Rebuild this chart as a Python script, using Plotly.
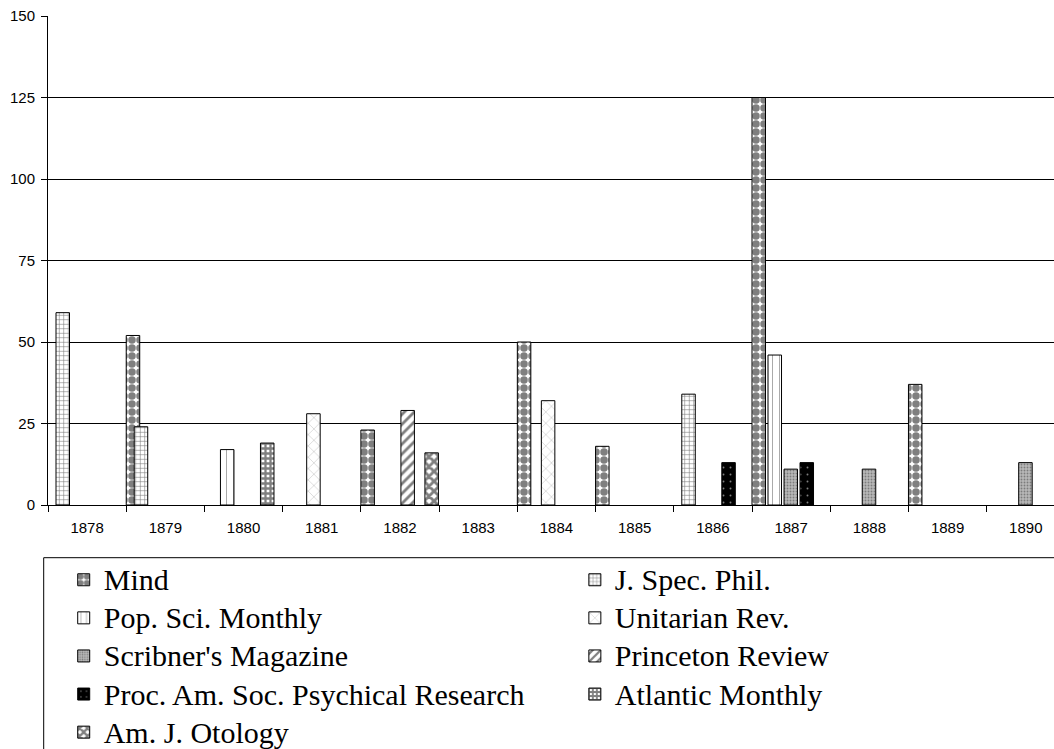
import plotly.graph_objects as go

years = ["1878", "1879", "1880", "1881", "1882", "1883", "1884",
         "1885", "1886", "1887", "1888", "1889", "1890"]

mind         = [None, 52, None, None, 23, None, 50, 18, None, 125, None, 37, None]
j_spec_phil  = [59, 24, None, None, None, None, None, None, 34, None, None, None, None]
pop_sci      = [None, None, 17, None, None, None, None, None, None, 46, None, None, None]
unitarian    = [None, None, None, 28, None, None, 32, None, None, None, None, None, None]
scribners    = [None, None, None, None, None, None, None, None, None, 11, 11, None, 13]
princeton    = [None, None, None, None, 29, None, None, None, None, None, None, None, None]
proc_am_soc  = [None, None, None, None, None, None, None, None, 13, 13, None, None, None]
atlantic     = [None, None, 19, None, None, None, None, None, None, None, None, None, None]
am_j_otology = [None, None, None, None, 16, None, None, None, None, None, None, None, None]

series_names = ["Mind", "J. Spec. Phil.", "Pop. Sci. Monthly", "Unitarian Rev.",
                "Scribner's Magazine", "Princeton Review",
                "Proc. Am. Soc. Psychical Research", "Atlantic Monthly", "Am. J. Otology"]
series_values = [mind, j_spec_phil, pop_sci, unitarian, scribners, princeton,
                 proc_am_soc, atlantic, am_j_otology]

patterns = [
    dict(shape=".", fgcolor="black", bgcolor="white", size=8, solidity=0.7),
    dict(shape="+", fgcolor="black", bgcolor="white", size=4.5, solidity=0.25),
    dict(shape="|", fgcolor="#333333", bgcolor="white", size=7, solidity=0.12),
    dict(shape="x", fgcolor="#777777", bgcolor="white", size=8, solidity=0.12),
    dict(shape=".", fgcolor="#404040", bgcolor="#b8b8b8", size=3, solidity=0.3),
    dict(shape="/", fgcolor="black", bgcolor="white", size=7, solidity=0.4),
    dict(shape=".", fgcolor="white", bgcolor="black", size=7, solidity=0.06),
    dict(shape="+", fgcolor="black", bgcolor="white", size=5, solidity=0.7),
    dict(shape="x", fgcolor="black", bgcolor="white", size=7, solidity=0.65),
]

cat_px = 78.2
step = 8.0 / cat_px
bw = 13.5 / cat_px

W, H = 1054, 749
plot_left = 48.3
plot_top = 16.3
plot_bottom = 505.3
plot_w = W - plot_left
plot_h = plot_bottom - plot_top
xmax = -0.5 + plot_w / cat_px

def px_to_paper_x(px):
    return (px - plot_left) / plot_w

def px_to_paper_y(py):
    return (plot_bottom - py) / plot_h

fig = go.Figure()
for i, (name, vals) in enumerate(zip(series_names, series_values)):
    fig.add_trace(go.Bar(
        x=years, y=vals, name='<span style="font-size:30px">' + name + '</span>',
        offset=-0.5 + i * step, width=bw,
        legend="legend" if i % 2 == 0 else "legend2",
        marker=dict(color="white", line=dict(color="black", width=1),
                    pattern=patterns[i]),
    ))

legend_common = dict(
    orientation="v", yanchor="top", xanchor="left",
    font=dict(family="Liberation Serif", size=27, color="black"),
    bgcolor="rgba(0,0,0,0)", borderwidth=0, traceorder="normal",
    maxheight=400,
)

fig.update_layout(
    width=W, height=H, autosize=False,
    margin=dict(l=plot_left, r=0, t=plot_top, b=H - plot_bottom, autoexpand=False),
    paper_bgcolor="white", plot_bgcolor="white",
    barmode="overlay",
    showlegend=True,
    legend=dict(x=px_to_paper_x(64), y=px_to_paper_y(556), **legend_common),
    legend2=dict(x=px_to_paper_x(575), y=px_to_paper_y(556), **legend_common),
    xaxis=dict(
        type="category", range=[-0.5, xmax],
        tickson="boundaries", ticks="outside", ticklen=6, tickcolor="black",
        showline=True, linecolor="black", linewidth=1,
        showgrid=False, zeroline=False,
        tickfont=dict(family="Liberation Sans", size=15, color="black"),
        ticklabelstandoff=9,
    ),
    yaxis=dict(
        range=[0, 150], dtick=25, tick0=0,
        ticks="outside", ticklen=6, tickcolor="black",
        showline=True, linecolor="black", linewidth=1,
        showgrid=True, gridcolor="black", gridwidth=1,
        zeroline=False,
        tickfont=dict(family="Liberation Sans", size=15, color="black"),
        ticklabelstandoff=3,
    ),
    shapes=[dict(
        type="rect", xref="paper", yref="paper",
        x0=px_to_paper_x(44), x1=px_to_paper_x(1100),
        y0=px_to_paper_y(558), y1=px_to_paper_y(800),
        line=dict(color="black", width=1), fillcolor="rgba(0,0,0,0)",
        layer="below",
    )],
)

fig.write_html("out.html", config={"displayModeBar": False},
               post_script="document.body.style.margin='0';")
